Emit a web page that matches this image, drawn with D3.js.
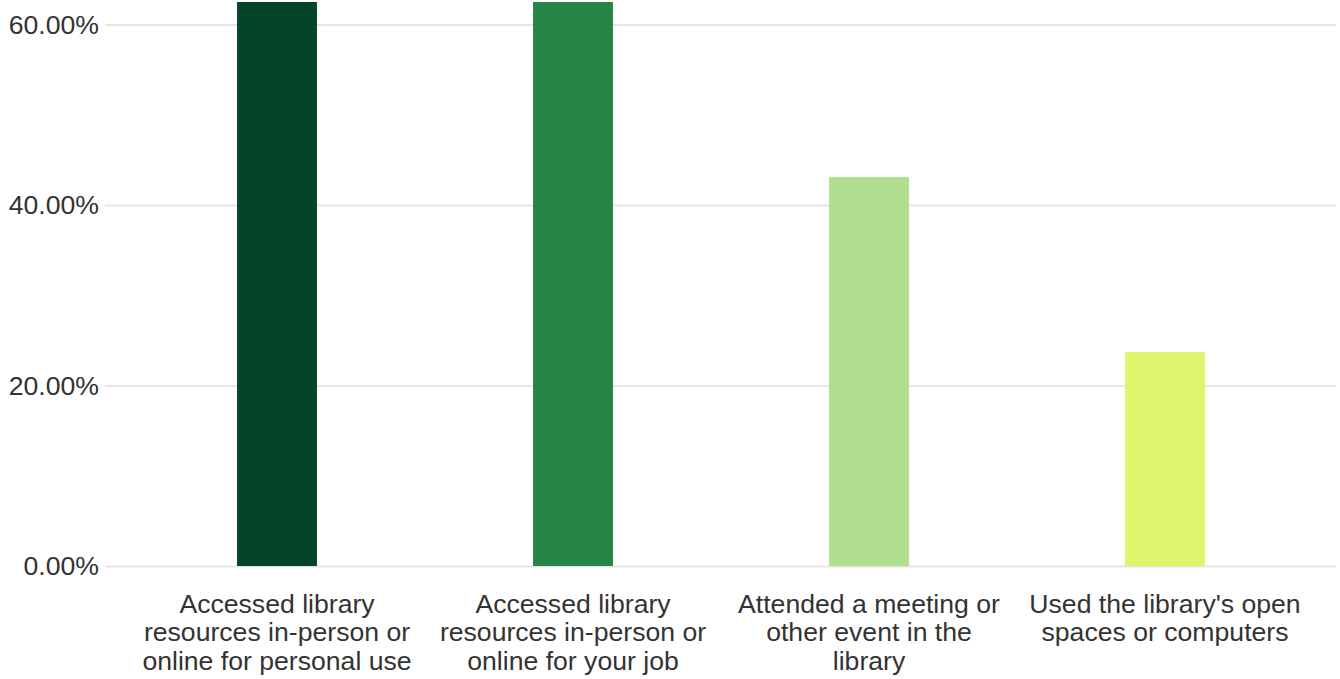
<!DOCTYPE html>
<html><head><meta charset="utf-8">
<script src="https://cdn.jsdelivr.net/npm/d3@7"></script>
<style>html,body{margin:0;padding:0;background:#fff;} svg{display:block;}</style>
</head><body>
<svg id="chart" width="1340" height="679"></svg>
<script>
const categories = [
  "Accessed library resources in-person or online for personal use",
  "Accessed library resources in-person or online for your job",
  "Attended a meeting or other event in the library",
  "Used the library's open spaces or computers"
];
const labelLines = [
  ["Accessed library", "resources in-person or", "online for personal use"],
  ["Accessed library", "resources in-person or", "online for your job"],
  ["Attended a meeting or", "other event in the", "library"],
  ["Used the library's open", "spaces or computers"]
];
const values = [66.0, 65.0, 43.1, 23.7];
const colors = ["#04452a", "#248546", "#afdf8f", "#e0f46e"];
const yTicks = [0, 20, 40, 60];

const svg = d3.select("#chart");
const FONT = "'Liberation Sans', Arial, sans-serif";
const SX = 1.065;

const x = d3.scaleBand().domain(categories).range([129, 1313]).paddingInner(0.73).paddingOuter(0.365);
const y = d3.scaleLinear().domain([0, 62.5]).range([566, 2]);

svg.append("defs").append("clipPath").attr("id", "plotclip")
  .append("rect").attr("x", 0).attr("y", 2).attr("width", 1340).attr("height", 600);

// gridlines + y labels
const yAxis = d3.axisLeft(y).tickValues(yTicks).tickSize(-1231).tickPadding(6)
  .tickFormat(d => d3.format(".2f")(d) + "%");
const gy = svg.append("g").attr("transform", "translate(105,0)").call(yAxis);
gy.select(".domain").remove();
gy.selectAll(".tick line").attr("stroke", "#e6e6e6").attr("stroke-width", 2);
gy.selectAll(".tick text").attr("fill", "#333").style("font-family", FONT).style("font-size", "25px")
  .attr("dy", "0.35em").attr("x", -6 / SX).attr("transform", `scale(${SX},1)`);

// bars
svg.append("g").attr("clip-path", "url(#plotclip)").selectAll("rect").data(values).join("rect")
  .attr("x", (d, i) => x(categories[i]))
  .attr("width", x.bandwidth())
  .attr("y", d => y(d))
  .attr("height", d => y(0) - y(d))
  .attr("fill", (d, i) => colors[i]);

// x labels
const gx = svg.append("g");
categories.forEach((c, i) => {
  const cx = x(c) + x.bandwidth() / 2;
  const t = gx.append("text").attr("text-anchor", "middle").attr("fill", "#333")
    .attr("transform", `translate(${cx},0) scale(${SX},1)`)
    .style("font-family", FONT).style("font-size", "25px");
  labelLines[i].forEach((ln, j) => {
    t.append("tspan").attr("x", 0).attr("y", 613 + j * 28.5).text(ln);
  });
});
</script>
</body></html>
